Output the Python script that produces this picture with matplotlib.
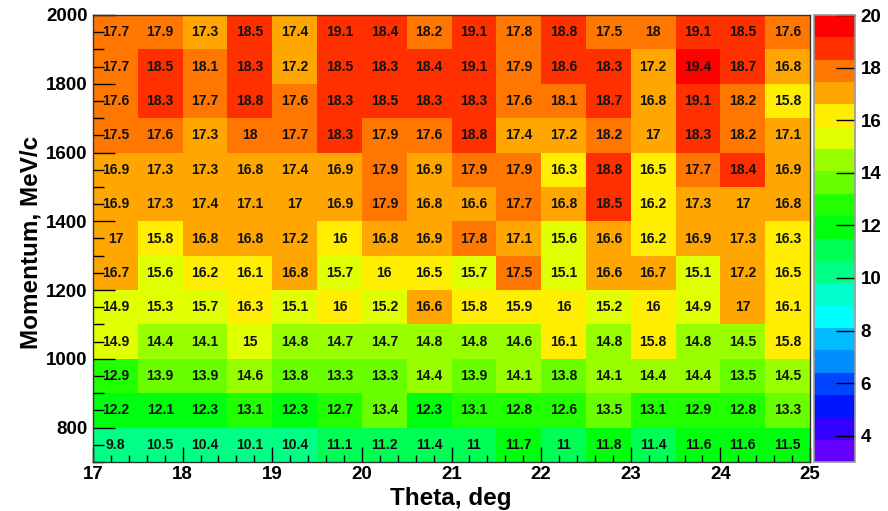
import colorsys
import numpy as np
import matplotlib
matplotlib.use("Agg")
import matplotlib.pyplot as plt
from matplotlib.colors import ListedColormap, BoundaryNorm

plt.rcParams['font.family'] = ['Liberation Sans', 'DejaVu Sans']

# Bin edges
theta_edges = np.linspace(17, 25, 17)
momentum_edges = np.linspace(700, 2000, 14)

# Cell values, rows from the top momentum bin (1900-2000) downward
row_1950 = [17.7, 17.9, 17.3, 18.5, 17.4, 19.1, 18.4, 18.2, 19.1, 17.8, 18.8, 17.5, 18, 19.1, 18.5, 17.6]
row_1850 = [17.7, 18.5, 18.1, 18.3, 17.2, 18.5, 18.3, 18.4, 19.1, 17.9, 18.6, 18.3, 17.2, 19.4, 18.7, 16.8]
row_1750 = [17.6, 18.3, 17.7, 18.8, 17.6, 18.3, 18.5, 18.3, 18.3, 17.6, 18.1, 18.7, 16.8, 19.1, 18.2, 15.8]
row_1650 = [17.5, 17.6, 17.3, 18, 17.7, 18.3, 17.9, 17.6, 18.8, 17.4, 17.2, 18.2, 17, 18.3, 18.2, 17.1]
row_1550 = [16.9, 17.3, 17.3, 16.8, 17.4, 16.9, 17.9, 16.9, 17.9, 17.9, 16.3, 18.8, 16.5, 17.7, 18.4, 16.9]
row_1450 = [16.9, 17.3, 17.4, 17.1, 17, 16.9, 17.9, 16.8, 16.6, 17.7, 16.8, 18.5, 16.2, 17.3, 17, 16.8]
row_1350 = [17, 15.8, 16.8, 16.8, 17.2, 16, 16.8, 16.9, 17.8, 17.1, 15.6, 16.6, 16.2, 16.9, 17.3, 16.3]
row_1250 = [16.7, 15.6, 16.2, 16.1, 16.8, 15.7, 16, 16.5, 15.7, 17.5, 15.1, 16.6, 16.7, 15.1, 17.2, 16.5]
row_1150 = [14.9, 15.3, 15.7, 16.3, 15.1, 16, 15.2, 16.6, 15.8, 15.9, 16, 15.2, 16, 14.9, 17, 16.1]
row_1050 = [14.9, 14.4, 14.1, 15, 14.8, 14.7, 14.7, 14.8, 14.8, 14.6, 16.1, 14.8, 15.8, 14.8, 14.5, 15.8]
row_950 = [12.9, 13.9, 13.9, 14.6, 13.8, 13.3, 13.3, 14.4, 13.9, 14.1, 13.8, 14.1, 14.4, 14.4, 13.5, 14.5]
row_850 = [12.2, 12.1, 12.3, 13.1, 12.3, 12.7, 13.4, 12.3, 13.1, 12.8, 12.6, 13.5, 13.1, 12.9, 12.8, 13.3]
row_750 = [9.8, 10.5, 10.4, 10.1, 10.4, 11.1, 11.2, 11.4, 11, 11.7, 11, 11.8, 11.4, 11.6, 11.6, 11.5]

rows_top_down = [row_1950, row_1850, row_1750, row_1650, row_1550, row_1450, row_1350,
                 row_1250, row_1150, row_1050, row_950, row_850, row_750]
values = np.array(rows_top_down[::-1])  # bottom-up for plotting

z_min, z_max, n_contours = 3.0, 20.0, 20
colorbar_ticks = [4, 6, 8, 10, 12, 14, 16, 18, 20]


def pretty_palette(n=50):
    """Violet-to-red HLS spectrum, 50 entries."""
    cols = []
    for i in range(n):
        hue = 280.0 - (i + 1) * (280.0 / n)
        cols.append(colorsys.hls_to_rgb((hue % 360) / 360.0, 0.5, 1.0))
    return cols


palette = pretty_palette(50)
band_colors = [palette[int((j + 0.99) * 50 / n_contours)] for j in range(n_contours)]
cmap = ListedColormap(band_colors)
levels = np.linspace(z_min, z_max, n_contours + 1) - 1e-9
levels[-1] = z_max + 1e-9
norm = BoundaryNorm(levels, cmap.N)

fig = plt.figure(figsize=(8.88, 5.11), dpi=100)
ax = fig.add_axes([93 / 888, 1 - 462 / 511, 717 / 888, 447 / 511])
cax = fig.add_axes([814 / 888, 1 - 462 / 511, 41 / 888, 447 / 511])

mesh = ax.pcolormesh(theta_edges, momentum_edges, values, cmap=cmap, norm=norm)

xc = 0.5 * (theta_edges[:-1] + theta_edges[1:])
yc = 0.5 * (momentum_edges[:-1] + momentum_edges[1:])
for iy, y in enumerate(yc):
    for ix, x in enumerate(xc):
        ax.text(x, y, f"{values[iy, ix]:g}", ha='center', va='center',
                fontsize=10, fontweight='bold', color='#111111')

ax.set_xlim(17, 25)
ax.set_ylim(700, 2000)
ax.set_xticks(np.arange(17, 26, 1))
ax.set_xticks(np.arange(17, 25.01, 0.2), minor=True)
ax.set_yticks(np.arange(800, 2001, 200))
ax.set_yticks(np.arange(700, 2001, 50), minor=True)
ax.tick_params(axis='both', which='both', direction='in', color='black', width=1)
ax.tick_params(axis='x', which='major', length=10.5, pad=3, labelsize=13.5)
ax.tick_params(axis='x', which='minor', length=5.2)
ax.tick_params(axis='y', which='major', length=16, pad=4, labelsize=13.5)
ax.tick_params(axis='y', which='minor', length=8)
for lab in ax.get_xticklabels() + ax.get_yticklabels():
    lab.set_fontweight('bold')
for sp in ax.spines.values():
    sp.set_color('#333333')
    sp.set_linewidth(1.0)

fig.text(451 / 888, 1 - 505 / 511, "Theta, deg", ha='center', va='baseline',
         fontsize=17.5, fontweight='bold')
fig.text(31 / 888, 1 - 242 / 511, "Momentum, MeV/c", ha='center', va='center',
         rotation=90, fontsize=17.5, fontweight='bold')

cb = fig.colorbar(mesh, cax=cax, ticks=colorbar_ticks)
cb.outline.set_edgecolor('#999999')
cb.outline.set_linewidth(1.2)
cax.tick_params(direction='in', length=14, width=1, color='black', pad=4, labelsize=13.5)
cax.minorticks_off()
for lab in cax.get_yticklabels():
    lab.set_fontweight('bold')

fig.savefig("out.png", dpi=100)
